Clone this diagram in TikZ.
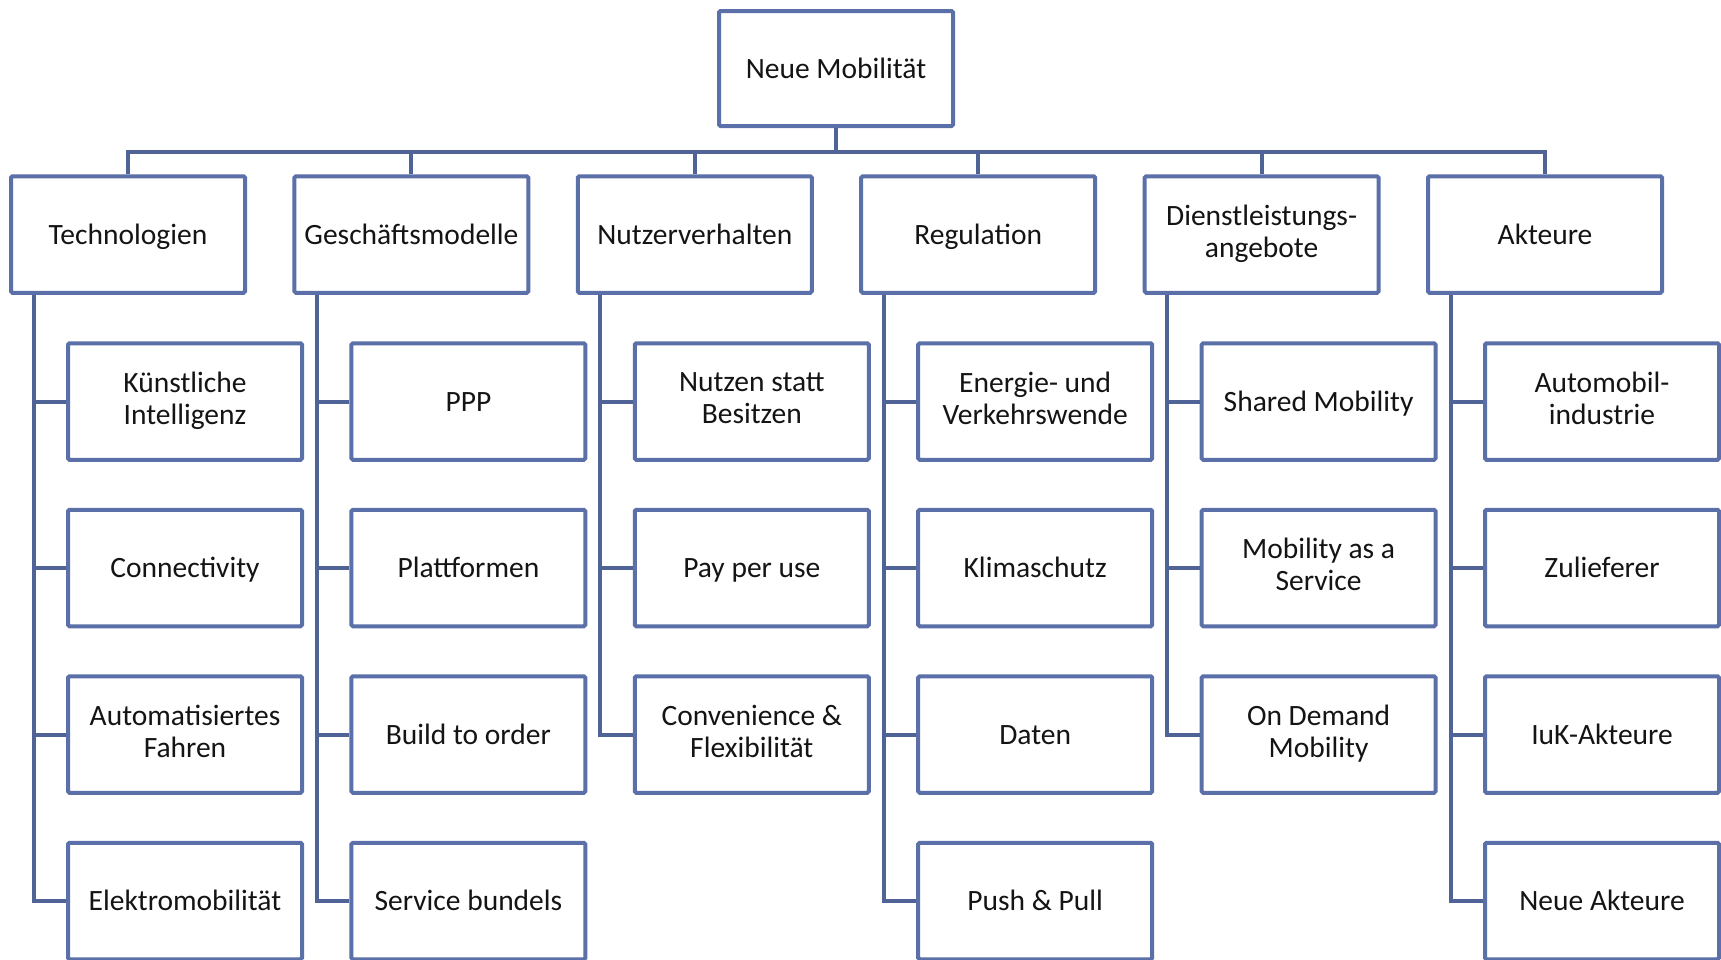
\documentclass[tikz,border=0pt]{standalone}
\usepackage{fontspec}
\setmainfont{Carlito}
\definecolor{boxblue}{RGB}{91,112,168}
\definecolor{lineblue}{RGB}{80,99,150}
\definecolor{txt}{RGB}{20,20,20}
\newcommand\mystrut{\rule[-6.6pt]{0pt}{32.6pt}}
\begin{document}
\begin{tikzpicture}[x=1pt,y=-1pt,
  box/.style={draw=boxblue,line width=4pt,fill=white,rounded corners=1.5pt,
    minimum width=234pt,minimum height=116.5pt,inner sep=0pt,align=center,
    text=txt,font=\fontsize{29.5}{32}\selectfont,
    execute at begin node={\mystrut},execute at end node={\mystrut}},
  topbox/.style={box,minimum height=115pt},
  conn/.style={draw=lineblue,line width=4pt,line join=miter}]
\useasboundingbox (0,0) rectangle (1721,959);
\fill[white] (0,0) rectangle (1721,959);

\node[topbox] (top) at (836,68.5) {Neue Mobilität};
\coordinate (bar) at (836,151.5);

\foreach \i/\n/\t in {0/tech/Technologien,1/gesch/Geschäftsmodelle,2/nutz/Nutzerverhalten,3/reg/Regulation,4/dienst/{Dienstleistungs-\\angebote},5/akt/Akteure}{
  \node[box] (\n) at ({128+283.4*\i},234.5) {\t};
}

% children
\node[box] (t1) at (185,401.5) {Künstliche\\Intelligenz};
\node[box] (t2) at (185,568) {Connectivity};
\node[box] (t3) at (185,734.5) {Automatisiertes\\Fahren};
\node[box] (t4) at (185,901) {Elektromobilität};

\node[box] (g1) at (468.4,401.5) {PPP};
\node[box] (g2) at (468.4,568) {Plattformen};
\node[box] (g3) at (468.4,734.5) {Build to order};
\node[box] (g4) at (468.4,901) {Service bundels};

\node[box] (n1) at (751.8,401.5) {Nutzen statt\\Besitzen};
\node[box] (n2) at (751.8,568) {Pay per use};
\node[box] (n3) at (751.8,734.5) {Convenience \&\\Flexibilität};

\node[box] (r1) at (1035.2,401.5) {Energie- und\\Verkehrswende};
\node[box] (r2) at (1035.2,568) {Klimaschutz};
\node[box] (r3) at (1035.2,734.5) {Daten};
\node[box] (r4) at (1035.2,901) {Push \& Pull};

\node[box] (d1) at (1318.6,401.5) {Shared Mobility};
\node[box] (d2) at (1318.6,568) {Mobility as a\\Service};
\node[box] (d3) at (1318.6,734.5) {On Demand\\Mobility};

\node[box] (a1) at (1602,401.5) {Automobil-\\industrie};
\node[box] (a2) at (1602,568) {Zulieferer};
\node[box] (a3) at (1602,734.5) {IuK-Akteure};
\node[box] (a4) at (1602,901) {Neue Akteure};

% connectors top level
\draw[conn] (top.south) -- (bar);
\foreach \n in {tech,gesch,nutz,reg,dienst,akt}{
  \draw[conn] (bar) -| (\n.north);
}

% child connectors
\foreach \p/\cs in {tech/{t1,t2,t3,t4},gesch/{g1,g2,g3,g4},nutz/{n1,n2,n3},reg/{r1,r2,r3,r4},dienst/{d1,d2,d3},akt/{a1,a2,a3,a4}}{
  \foreach \c in \cs {
    \draw[conn] ([xshift=-94.5pt]\p.south) |- (\c.west);
  }
}
\end{tikzpicture}
\end{document}
